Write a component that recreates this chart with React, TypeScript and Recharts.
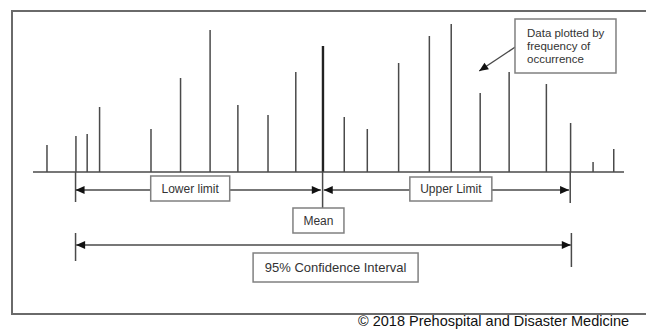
import {
  Bar,
  ComposedChart,
  ReferenceDot,
  ReferenceLine,
  XAxis,
  YAxis,
} from "recharts";

// observed values (x) and how often each one occurred (height of spike)
const positions = [
  2.3, 7.2, 9.1, 11.2, 19.9, 24.9, 29.9, 34.6, 39.7, 44.4, 49.0, 52.6, 56.5,
  61.8, 67.0, 70.7, 75.6, 80.5, 86.8, 90.9, 94.7, 98.2,
];
const frequencies = [
  27, 36, 38, 65, 43, 94, 142, 67, 57, 100, 126, 55, 43, 109, 136, 148, 79,
  100, 88, 49, 10, 23,
];

const meanValue = 49.0;
const lowerLimit = 7.2;
const upperLimit = 90.9;
const ciBounds = [7.2, 91.1];

const labelTexts = {
  lower: "Lower limit",
  upper: "Upper Limit",
  mean: "Mean",
  ci: "95% Confidence Interval",
  note: ["Data plotted by", "frequency of", "occurrence"],
};

const data = positions.map((x, i) => ({
  x,
  freq: frequencies[i],
  isMean: x === meanValue,
}));

const FONT = '"Liberation Sans", Arial, sans-serif';
const INK = "#4a4a4a";

function Spike(props: any) {
  const { x, y, width, height, payload } = props;
  const cx = x + width / 2;
  const mean = payload && payload.isMean;
  return (
    <line
      x1={cx}
      x2={cx}
      y1={y}
      y2={y + height}
      stroke={mean ? "#222" : INK}
      strokeWidth={mean ? 2.4 : 1.5}
    />
  );
}

function head(tx: number, ty: number, dx: number, dy: number) {
  const len = 9;
  const half = 4;
  const bx = tx - dx * len;
  const by = ty - dy * len;
  const nx = -dy;
  const ny = dx;
  return `${tx},${ty} ${bx + nx * half},${by + ny * half} ${bx - nx * half},${by - ny * half}`;
}

function arrow(startHead: boolean, endHead: boolean) {
  return (props: any) => {
    const { x1, y1, x2, y2 } = props;
    const l = Math.hypot(x2 - x1, y2 - y1) || 1;
    const dx = (x2 - x1) / l;
    const dy = (y2 - y1) / l;
    return (
      <g>
        <line x1={x1} y1={y1} x2={x2} y2={y2} stroke={INK} strokeWidth={1.4} />
        {endHead && <polygon points={head(x2, y2, dx, dy)} fill="#111" />}
        {startHead && <polygon points={head(x1, y1, -dx, -dy)} fill="#111" />}
      </g>
    );
  };
}

function boxLabel(
  lines: string[],
  w: number,
  h: number,
  fontSize: number,
  align: "middle" | "start" = "middle"
) {
  return (props: any) => {
    const { cx, cy } = props;
    const gap = fontSize * 1.17;
    const first = cy - ((lines.length - 1) * gap) / 2;
    const tx = align === "middle" ? cx : cx - w / 2 + 12;
    return (
      <g>
        <rect
          x={cx - w / 2}
          y={cy - h / 2}
          width={w}
          height={h}
          fill="#fff"
          stroke="#808080"
          strokeWidth={1.5}
        />
        {lines.map((t, i) => (
          <text
            key={t}
            x={tx}
            y={first + i * gap}
            textAnchor={align}
            dominantBaseline="central"
            fontFamily={FONT}
            fontSize={fontSize}
            fill="#333"
          >
            {t}
          </text>
        ))}
      </g>
    );
  };
}

const tick = (x: number, y1: number, y2: number) => (
  <ReferenceLine
    key={`tick-${x}-${y1}`}
    segment={[
      { x, y: y1 },
      { x, y: y2 },
    ]}
    stroke={INK}
    strokeWidth={1.5}
  />
);

export default function App() {
  return (
    <div
      style={{
        position: "absolute",
        left: 0,
        top: 0,
        width: 646,
        height: 330,
        overflow: "hidden",
        background: "#fff",
      }}
    >
      <div
        style={{
          position: "absolute",
          left: 11,
          top: 10,
          width: 635,
          height: 305,
          boxSizing: "border-box",
          borderLeft: "2px solid #6a6a6a",
          borderTop: "2px solid #6a6a6a",
          borderBottom: "2px solid #6a6a6a",
        }}
      />
      <div style={{ position: "absolute", left: 0, top: 0 }}>
        <ComposedChart
          width={646}
          height={330}
          data={data}
          margin={{ top: 11, right: 22, bottom: 16, left: 33 }}
        >
          <XAxis type="number" dataKey="x" domain={[0, 100]} hide />
          <YAxis type="number" domain={[-142, 161]} hide allowDataOverflow />
          <ReferenceLine
            segment={[
              { x: 0, y: 0 },
              { x: 100, y: 0 },
            ]}
            stroke={INK}
            strokeWidth={1.6}
          />
          <Bar
            dataKey="freq"
            barSize={2}
            shape={Spike}
            isAnimationActive={false}
          />
          {tick(lowerLimit, 0, -30)}
          {tick(upperLimit, 0, -31)}
          {tick(meanValue, 0, -36)}
          {tick(ciBounds[0], -61, -89)}
          {tick(ciBounds[1], -61, -95)}
          <ReferenceLine
            segment={[
              { x: lowerLimit, y: -18 },
              { x: 48.7, y: -18 },
            ]}
            shape={arrow(true, true)}
          />
          <ReferenceLine
            segment={[
              { x: 49.2, y: -18 },
              { x: 90.7, y: -18 },
            ]}
            shape={arrow(true, true)}
          />
          <ReferenceLine
            segment={[
              { x: 7.3, y: -73 },
              { x: 91.0, y: -73 },
            ]}
            shape={arrow(true, true)}
          />
          <ReferenceLine
            segment={[
              { x: 81.6, y: 125 },
              { x: 75.5, y: 101 },
            ]}
            shape={arrow(false, true)}
          />
          <ReferenceDot
            x={26.6}
            y={-16.5}
            r={1}
            shape={boxLabel([labelTexts.lower], 79, 25, 12)}
          />
          <ReferenceDot
            x={70.7}
            y={-17}
            r={1}
            shape={boxLabel([labelTexts.upper], 82, 24, 12)}
          />
          <ReferenceDot
            x={48.3}
            y={-48.5}
            r={1}
            shape={boxLabel([labelTexts.mean], 51, 25, 12)}
          />
          <ReferenceDot
            x={51.2}
            y={-95.5}
            r={1}
            shape={boxLabel([labelTexts.ci], 165, 29, 13)}
          />
          <ReferenceDot
            x={90.1}
            y={126}
            r={1}
            shape={boxLabel(labelTexts.note, 101, 54, 11.5, "start")}
          />
        </ComposedChart>
      </div>
      <div
        style={{
          position: "absolute",
          left: 358,
          top: 314,
          fontFamily: FONT,
          fontSize: 14.5,
          lineHeight: "14.5px",
          whiteSpace: "nowrap",
          color: "#111",
        }}
      >
        © 2018 Prehospital and Disaster Medicine
      </div>
    </div>
  );
}
